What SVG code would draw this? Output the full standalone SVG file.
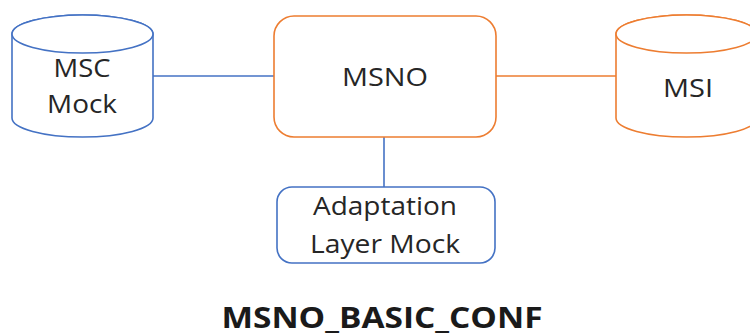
<svg xmlns="http://www.w3.org/2000/svg" width="750" height="336" viewBox="0 0 750 336">
<style>
.blue{fill:#fff;stroke:#4472C4;stroke-width:1.6}
.orange{fill:#fff;stroke:#ED7D31;stroke-width:1.6}
.t{font-family:"Open Sans","Liberation Sans",sans-serif;font-size:25px;fill:#262626;text-anchor:middle}
.title{font-family:"Open Sans","Liberation Sans",sans-serif;font-size:28px;font-weight:bold;fill:#1a1a1a;text-anchor:middle}
.lb{stroke:#4472C4;stroke-width:1.6;fill:none}
.lo{stroke:#ED7D31;stroke-width:1.6;fill:none}
</style>
<rect width="750" height="336" fill="#fff"/>
<g id="connectors">
<line class="lb" x1="153" y1="76" x2="275" y2="76"/>
<line class="lo" x1="496" y1="76" x2="616" y2="76"/>
<line class="lb" x1="384" y1="137" x2="384" y2="187"/>
</g>
<g id="msc-mock">
<path class="blue" d="M12,34 L12,118 A70.5,19 0 0 0 153,118 L153,34 A70.5,19 0 0 0 12,34 Z"/>
<ellipse class="blue" cx="82.5" cy="34" rx="70.5" ry="19"/>
<text class="t" x="82" y="77" textLength="57" lengthAdjust="spacingAndGlyphs">MSC</text>
<text class="t" x="82" y="113" textLength="70" lengthAdjust="spacingAndGlyphs">Mock</text>
</g>
<g id="msno">
<rect class="orange" x="274" y="16" width="222" height="121" rx="20" ry="20"/>
<text class="t" x="385" y="86" textLength="86" lengthAdjust="spacingAndGlyphs">MSNO</text>
</g>
<g id="msi">
<path class="orange" d="M616,34 L616,118 A70.5,19 0 0 0 757,118 L757,34 A70.5,19 0 0 0 616,34 Z"/>
<ellipse class="orange" cx="686.5" cy="34" rx="70.5" ry="19"/>
<text class="t" x="688" y="97" textLength="50" lengthAdjust="spacingAndGlyphs">MSI</text>
</g>
<g id="adaptation">
<rect class="blue" x="277" y="187" width="218" height="76" rx="15" ry="15"/>
<text class="t" x="385" y="215" textLength="144" lengthAdjust="spacingAndGlyphs">Adaptation</text>
<text class="t" x="385" y="253" textLength="150" lengthAdjust="spacingAndGlyphs">Layer Mock</text>
</g>
<text class="title" x="382" y="328" textLength="321" lengthAdjust="spacingAndGlyphs">MSNO_BASIC_CONF</text>
</svg>
